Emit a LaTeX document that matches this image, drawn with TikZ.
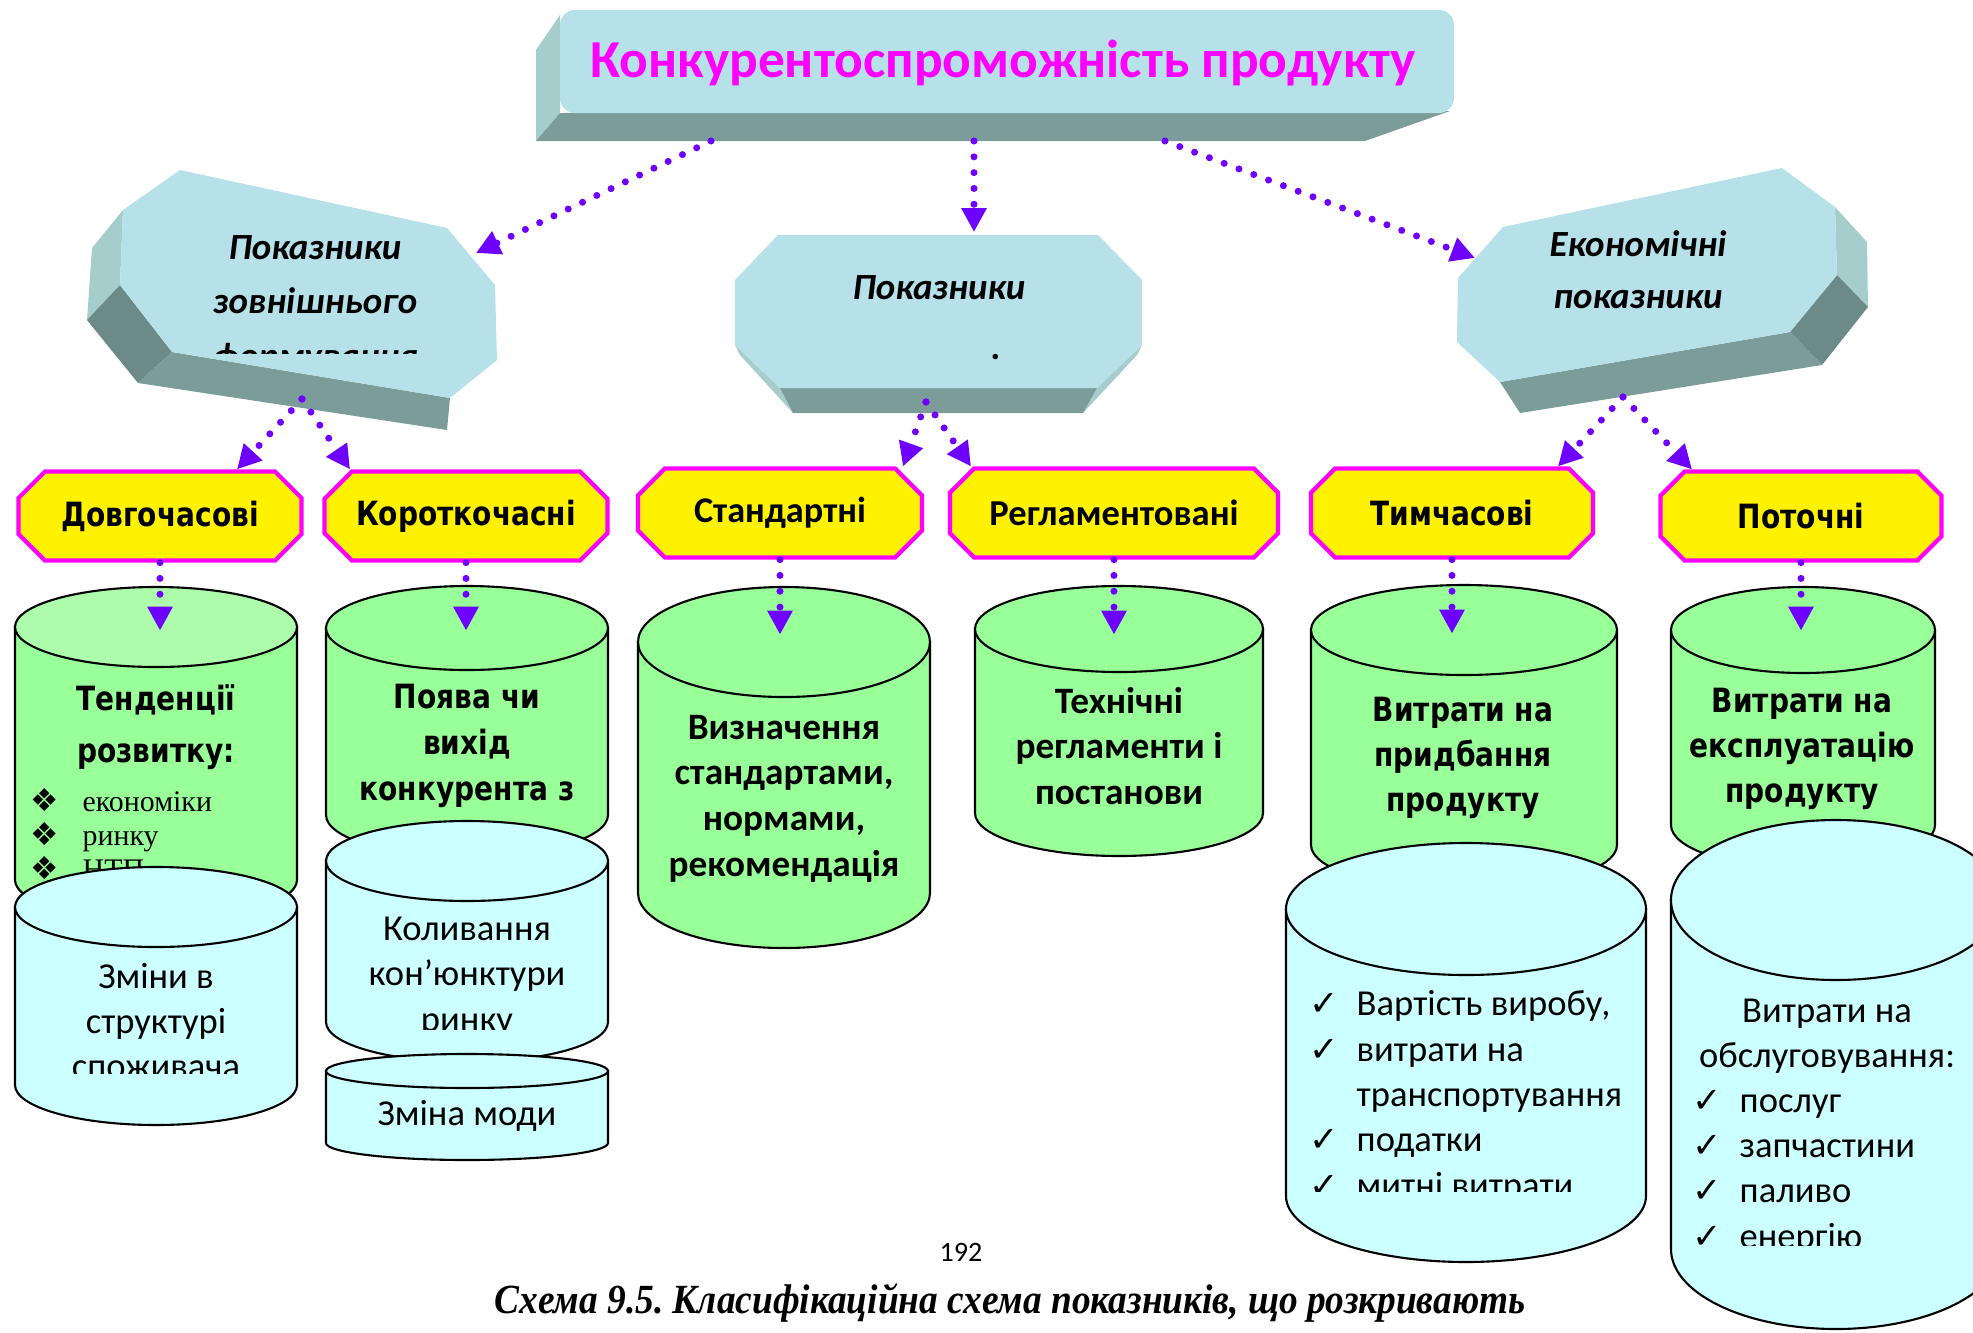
\documentclass[tikz,border=0pt]{standalone}
\usepackage{fontspec}
\setmainfont{Carlito}
\newfontfamily\verd{DejaVu Sans}[FakeStretch=0.84]
\newfontfamily\sym{DejaVu Sans}
\newfontfamily\tms{Liberation Serif}
\newfontfamily\tmsn{Liberation Serif}[FakeStretch=0.9]
\usetikzlibrary{arrows.meta,shapes.misc,calc}
\definecolor{drop}{RGB}{182,225,233}
\definecolor{bevel}{RGB}{165,205,204}
\definecolor{slabdark}{RGB}{124,156,154}
\definecolor{slabdeep}{RGB}{108,138,136}
\definecolor{leaf}{RGB}{153,255,153}
\definecolor{leaftop}{RGB}{172,252,172}
\definecolor{ice}{RGB}{204,255,255}
\definecolor{linkc}{RGB}{110,0,255}
\definecolor{rim}{RGB}{255,0,255}
% cylinder: cx, y top, y bottom, rx, ry, body fill, lid fill
\newcommand{\drumshape}[7]{%
  \filldraw[fill=#6, draw=black, line width=0.6pt]
    (#1-#4,#2) -- (#1-#4,#3) arc[start angle=180, end angle=360, x radius=#4, y radius=#5]
    -- (#1+#4,#2) -- cycle;
  \filldraw[fill=#7, draw=black, line width=0.6pt] (#1,#2) ellipse[x radius=#4, y radius=#5];
}
\newcommand{\chkmark}{\makebox[0.47cm][l]{\sym\fontsize{10}{10}\selectfont ✓}}
\newcommand{\dmd}{\makebox[0.52cm][l]{\sym\fontsize{9}{9}\selectfont ❖}}

\begin{document}
\frenchspacing
\begin{tikzpicture}[
    kind/.style={chamfered rectangle, chamfered rectangle xsep=0.25cm, draw=rim, line width=1.2pt, fill=yellow, minimum width=2.83cm, minimum height=0.89cm, inner sep=0pt},
    link/.style={draw=linkc, line width=2pt, line cap=round, dash pattern=on 0pt off 4.5pt, -{Triangle[length=6.8pt,width=6.8pt]}},
    headtxt/.style={font=\bfseries\itshape\fontsize{10.5}{15.6}\selectfont, align=center},
    boldv/.style={font=\verd\bfseries\fontsize{9.5}{13}\selectfont, align=center},
    boldc/.style={font=\bfseries\fontsize{10.6}{13}\selectfont, align=center},
    icetxt/.style={font=\fontsize{10.4}{12.9}\selectfont, align=center},
    checks/.style={font=\fontsize{10.4}{12.9}\selectfont, align=left, anchor=west, inner sep=0pt}
]
    \useasboundingbox (0,0) rectangle (19.73,-13.33);
    \clip (0,0) rectangle (19.73,-13.33);

    % Top slab
    \fill[bevel] (5.60,-0.15) -- (5.36,-0.50) -- (5.36,-1.41) -- (5.60,-1.13) -- cycle;
    \fill[slabdark] (5.60,-1.13) -- (14.50,-1.11) -- (13.65,-1.41) -- (5.36,-1.41) -- cycle;
    \fill[drop, rounded corners=0.15cm] (5.60,-0.10) rectangle (14.54,-1.13);
    \node[font=\bfseries\fontsize{15.2}{18}\selectfont, text=rim] (title) at (10.03,-0.63) {Конкурентоспроможність продукту};
    \coordinate (tl) at (7.11,-1.41);
    \coordinate (tc) at (9.74,-1.41);
    \coordinate (tr) at (11.65,-1.41);

    % Left octagon slab
    \fill[bevel] (1.23,-2.10) -- (1.20,-2.85) -- (0.87,-3.20) -- (0.92,-2.48) -- cycle;
    \fill[slabdeep] (1.20,-2.85) -- (1.72,-3.52) -- (1.38,-3.83) -- (0.87,-3.20) -- cycle;
    \fill[slabdark] (1.72,-3.52) -- (4.50,-3.98) -- (4.47,-4.30) -- (1.38,-3.83) -- cycle;
    \fill[drop] (1.23,-2.10) -- (1.80,-1.70) -- (4.47,-2.28) -- (4.95,-2.85) -- (4.97,-3.60)
        -- (4.50,-3.98) -- (1.72,-3.52) -- (1.20,-2.85) -- cycle;
    \begin{scope}
        \clip (1.2,-1.8) rectangle (4.9,-3.53);
        \node[headtxt] (ext) at (3.15,-3.05) {Показники\\зовнішнього\\формування};
    \end{scope}
    \coordinate (ol) at (4.76,-2.53);
    \coordinate (olb) at (3.02,-3.99);

    % Middle octagon slab
    \fill[bevel] (7.35,-3.45) -- (7.80,-3.88) -- (7.93,-4.13) -- (7.40,-3.55) -- cycle;
    \fill[bevel] (11.42,-3.45) -- (10.97,-3.88) -- (10.83,-4.13) -- (11.37,-3.55) -- cycle;
    \fill[slabdark] (7.80,-3.88) -- (10.97,-3.88) -- (10.83,-4.13) -- (7.93,-4.13) -- cycle;
    \fill[drop] (7.78,-2.35) -- (10.98,-2.35) -- (11.42,-2.80) -- (11.42,-3.45) -- (10.97,-3.88)
        -- (7.80,-3.88) -- (7.35,-3.45) -- (7.35,-2.80) -- cycle;
    \node[headtxt] (norm) at (9.39,-2.88) {Показники};
    \node[headtxt] (normdot) at (9.96,-3.57) {.};
    \coordinate (oc) at (9.74,-2.32);
    \coordinate (ocb) at (9.26,-4.02);

    % Right octagon slab
    \fill[bevel] (18.35,-2.07) -- (18.67,-2.42) -- (18.68,-3.07) -- (18.37,-2.75) -- cycle;
    \fill[slabdeep] (18.37,-2.75) -- (18.68,-3.07) -- (18.22,-3.65) -- (17.90,-3.32) -- cycle;
    \fill[slabdark] (17.90,-3.32) -- (18.22,-3.65) -- (15.20,-4.13) -- (15.00,-3.82) -- cycle;
    \fill[drop] (14.58,-2.78) -- (15.03,-2.27) -- (17.82,-1.68) -- (18.35,-2.07) -- (18.37,-2.75)
        -- (17.90,-3.32) -- (15.00,-3.82) -- (14.57,-3.42) -- cycle;
    \node[headtxt, font=\bfseries\itshape\fontsize{10.5}{14.8}\selectfont] (econ) at (16.38,-2.70) {Економічні\\показники};
    \coordinate (or) at (14.75,-2.58);
    \coordinate (orb) at (16.23,-3.97);

    % Kinds of indicators
    \node[kind, font=\verd\bfseries\fontsize{9.5}{10}\selectfont] (dov) at (1.60,-5.16) {Довгочасові};
    \node[kind, font=\verd\bfseries\fontsize{9.5}{10}\selectfont] (kor) at (4.66,-5.16) {Короткочасні};
    \node[kind, font=\bfseries\fontsize{10.3}{12}\selectfont, minimum width=2.84cm] (stan) at (7.80,-5.13) {Стандартні};
    \node[kind, font=\bfseries\fontsize{10.4}{12}\selectfont, minimum width=3.28cm] (reg) at (11.14,-5.13) {Регламентовані};
    \node[kind, font=\verd\bfseries\fontsize{9.5}{10}\selectfont, minimum width=2.82cm] (tim) at (14.52,-5.13) {Тимчасові};
    \node[kind, font=\verd\bfseries\fontsize{9.5}{10}\selectfont, minimum width=2.81cm] (pot) at (18.01,-5.16) {Поточні};

    % Green cylinders
    \drumshape{1.56}{-6.27}{-8.80}{1.41}{0.40}{leaf}{leaftop}
    \node[boldv, font=\verd\bfseries\fontsize{9.5}{14.8}\selectfont] (g1) at (1.56,-7.27) {Тенденції\\розвитку:};
    \node[font=\tms\fontsize{8.5}{9.8}\selectfont, align=left, anchor=west, inner sep=0pt] (g1list) at (0.30,-8.34)
        {\dmd економіки\\\dmd ринку\\\dmd НТП};
    \drumshape{4.67}{-6.28}{-8.15}{1.41}{0.42}{leaf}{leaf}
    \node[boldv] (g2) at (4.67,-7.46) {Поява чи\\вихід\\конкурента з};
    \drumshape{7.84}{-6.42}{-8.93}{1.46}{0.55}{leaf}{leaf}
    \node[boldc] (g3) at (7.84,-7.985) {Визначення\\стандартами,\\нормами,\\рекомендація};
    \drumshape{11.19}{-6.29}{-8.13}{1.44}{0.43}{leaf}{leaf}
    \node[boldc] (g4) at (11.19,-7.46) {Технічні\\регламенти і\\постанови};
    \drumshape{14.64}{-6.30}{-8.45}{1.53}{0.45}{leaf}{leaf}
    \node[boldv, font=\verd\bfseries\fontsize{9.5}{12.8}\selectfont] (g5) at (14.63,-7.58) {Витрати на\\придбання\\продукту};
    \drumshape{18.03}{-6.30}{-8.25}{1.32}{0.43}{leaf}{leaf}
    \node[boldv, font=\verd\bfseries\fontsize{9.5}{12.8}\selectfont] (g6) at (18.02,-7.49) {Витрати на\\експлуатацію\\продукту};

    % Blue cylinders
    \drumshape{1.56}{-9.07}{-10.85}{1.41}{0.40}{ice}{ice}
    \begin{scope}
        \clip (0.15,-9.4) rectangle (2.97,-10.73);
        \node[icetxt] (c1) at (1.56,-10.21) {Зміни в\\структурі\\споживача};
    \end{scope}
    \drumshape{4.67}{-8.61}{-10.22}{1.41}{0.40}{ice}{ice}
    \begin{scope}
        \clip (3.26,-9.0) rectangle (6.08,-10.29);
        \node[icetxt] (c2) at (4.67,-9.77) {Коливання\\кон’юнктури\\ринку};
    \end{scope}
    \drumshape{4.67}{-10.71}{-11.43}{1.41}{0.17}{ice}{ice}
    \node[icetxt] (c3) at (4.67,-11.16) {Зміна моди};
    \drumshape{14.66}{-9.09}{-11.96}{1.80}{0.66}{ice}{ice}
    \begin{scope}
        \clip (12.9,-9.8) rectangle (16.4,-11.91);
        \node[checks] (c5) at (13.09,-10.97) {\chkmark Вартість виробу,\\\chkmark витрати на\\\makebox[0.47cm]{}транспортування\\\chkmark податки\\\chkmark митні витрати};
    \end{scope}
    \drumshape{18.36}{-9.00}{-12.49}{1.65}{0.80}{ice}{ice}
    \node[icetxt] (c6) at (18.27,-10.36) {Витрати на\\обслуговування:};
    \begin{scope}
        \clip (16.8,-10.7) rectangle (19.73,-12.45);
        \node[checks] (c6list) at (16.92,-11.72) {\chkmark послуг\\\chkmark запчастини\\\chkmark паливо\\\chkmark енергію};
    \end{scope}

    % Dotted links
    \draw[link] (tl) -- (ol);
    \draw[link] (tc) -- (oc);
    \draw[link] (tr) -- (or);
    \draw[link] (olb) -- ($(dov.north)+(0.77,0)$);
    \draw[link] (olb) -- ($(kor.north)+(-1.16,0)$);
    \draw[link] (ocb) -- ($(stan.north)+(1.23,0)$);
    \draw[link] (ocb) -- ($(reg.north)+(-1.43,0)$);
    \draw[link] (orb) -- ($(tim.north)+(1.06,0)$);
    \draw[link] (orb) -- ($(pot.north)+(-1.09,0)$);
    \draw[link] (dov.south) -- ++(0,-0.68);
    \draw[link] (kor.south) -- ++(0,-0.68);
    \draw[link] (stan.south) -- ++(0,-0.75);
    \draw[link] (reg.south) -- ++(0,-0.75);
    \draw[link] (tim.south) -- ++(0,-0.74);
    \draw[link] (pot.south) -- ++(0,-0.68);

    % Page number and caption
    \node[font=\fontsize{8}{10}\selectfont] (page) at (9.61,-12.52) {192};
    \node[font=\tmsn\bfseries\itshape\fontsize{11.8}{14}\selectfont] (cap) at (10.10,-13.03) {Схема 9.5. Класифікаційна схема показників, що розкривають};
\end{tikzpicture}
\end{document}
